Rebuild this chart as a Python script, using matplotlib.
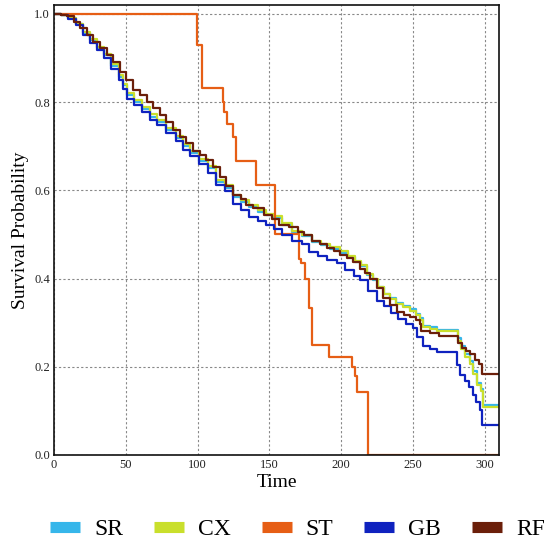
import matplotlib.pyplot as plt

plt.rcParams['font.family'] = ['Liberation Serif', 'DejaVu Serif']

# survival curves (time, probability), drawn as steps
gb_t = [0, 5, 10, 15, 20, 25, 30, 35, 40, 45, 48, 51, 56, 61, 67, 72, 78, 85, 90, 95,
        101, 107, 113, 119, 125, 130, 136, 142, 148, 153, 159, 166, 173, 178, 184, 190,
        197, 203, 209, 213, 219, 225, 230, 235, 240, 245, 250, 253, 257, 262, 267, 281,
        283, 286, 289, 292, 294, 297, 298.5, 310]
gb_s = [1.0, 0.997, 0.988, 0.974, 0.952, 0.935, 0.918, 0.900, 0.875, 0.851, 0.830, 0.808,
        0.793, 0.778, 0.760, 0.747, 0.730, 0.711, 0.692, 0.677, 0.659, 0.640, 0.612, 0.598,
        0.570, 0.555, 0.540, 0.530, 0.521, 0.512, 0.499, 0.485, 0.478, 0.460, 0.450, 0.442,
        0.435, 0.420, 0.405, 0.397, 0.372, 0.350, 0.337, 0.322, 0.308, 0.298, 0.287, 0.268,
        0.246, 0.240, 0.234, 0.205, 0.181, 0.168, 0.155, 0.135, 0.121, 0.102, 0.068, 0.068]

rf_t = [0, 5, 9, 14, 18, 23, 27, 32, 37, 41, 46, 50, 55, 60, 65, 69, 74, 78, 83, 88, 92,
        97, 102, 106, 111, 116, 120, 125, 130, 134, 139, 146, 152, 157, 164, 170, 174, 180,
        185, 190, 195, 199, 204, 208, 213, 217, 220, 225, 229, 234, 239, 244, 248, 252, 255,
        256, 262, 268, 281.5, 284, 287, 290, 293, 296, 298.5, 310]
rf_s = [1.0, 0.998, 0.995, 0.982, 0.967, 0.952, 0.937, 0.922, 0.907, 0.890, 0.869, 0.850,
        0.828, 0.815, 0.801, 0.787, 0.771, 0.755, 0.737, 0.722, 0.707, 0.690, 0.680, 0.668,
        0.652, 0.630, 0.610, 0.590, 0.580, 0.566, 0.560, 0.545, 0.535, 0.522, 0.518, 0.505,
        0.499, 0.484, 0.478, 0.469, 0.462, 0.454, 0.447, 0.438, 0.422, 0.412, 0.400, 0.378,
        0.356, 0.340, 0.325, 0.318, 0.312, 0.305, 0.298, 0.280, 0.276, 0.270, 0.255, 0.242,
        0.236, 0.230, 0.215, 0.206, 0.184, 0.184]

sr_t = [0, 5, 10, 15, 20, 25, 30, 35, 40, 45, 48, 51, 56, 61, 67, 72, 78, 85, 90, 95,
        101, 107, 113, 119, 125, 130, 136, 142, 148, 153, 159, 166, 173, 180, 186, 192,
        199, 205, 210, 214, 218, 222, 226, 230, 234, 238, 243, 248, 252, 255, 257, 262,
        267, 281.5, 283.5, 286, 289.5, 292, 295, 297.5, 298.8, 310]
sr_s = [1.0, 0.997, 0.99, 0.976, 0.956, 0.940, 0.923, 0.906, 0.882, 0.858, 0.838, 0.815,
        0.800, 0.785, 0.767, 0.754, 0.737, 0.718, 0.700, 0.684, 0.667, 0.650, 0.618, 0.606,
        0.586, 0.574, 0.562, 0.552, 0.543, 0.537, 0.522, 0.505, 0.496, 0.482, 0.475, 0.468,
        0.459, 0.448, 0.437, 0.428, 0.408, 0.397, 0.380, 0.366, 0.355, 0.345, 0.338, 0.330,
        0.320, 0.310, 0.293, 0.290, 0.284, 0.265, 0.246, 0.228, 0.212, 0.190, 0.163, 0.150,
        0.113, 0.113]

cx_t = sr_t
cx_s = [1.0, 0.997, 0.99, 0.977, 0.958, 0.942, 0.926, 0.909, 0.886, 0.862, 0.842, 0.820,
        0.805, 0.790, 0.772, 0.759, 0.742, 0.723, 0.705, 0.689, 0.672, 0.656, 0.624, 0.611,
        0.590, 0.578, 0.567, 0.556, 0.547, 0.541, 0.527, 0.508, 0.499, 0.485, 0.478, 0.471,
        0.462, 0.450, 0.439, 0.430, 0.410, 0.398, 0.380, 0.365, 0.353, 0.343, 0.336, 0.327,
        0.317, 0.307, 0.290, 0.286, 0.280, 0.258, 0.240, 0.222, 0.207, 0.184, 0.158, 0.146,
        0.108, 0.108]

st_t = [0, 99.3, 102.8, 117.8, 118.6, 120.4, 124.8, 126.6, 141, 153.8, 170.7, 172,
        174.7, 177.8, 179.5, 191.6, 207.8, 209.5, 211.3, 218.5, 310]
st_s = [1.0, 0.929, 0.833, 0.80, 0.778, 0.75, 0.72, 0.667, 0.611, 0.50, 0.444, 0.435,
        0.40, 0.333, 0.25, 0.222, 0.20, 0.18, 0.143, 0.0, 0.0]

names = ['SR', 'CX', 'ST', 'GB', 'RF']
colors = ['#36b6ea', '#c9df2c', '#e65e15', '#0f22bf', '#6b1f0a']
series = [(sr_t, sr_s), (cx_t, cx_s), (st_t, st_s), (gb_t, gb_s), (rf_t, rf_s)]

fig = plt.figure(figsize=(5.48, 5.46), dpi=100)
ax = fig.add_axes([0.0985, 0.1667, 0.812, 0.824])

for name, col, (t, s) in zip(names, colors, series):
    ax.plot(t, s, drawstyle='steps-post', color=col, linewidth=1.6, label=name)

ax.set_xlim(0, 310)
ax.set_ylim(0, 1.02)
ax.set_xticks([0, 50, 100, 150, 200, 250, 300])
ax.set_yticks([0.0, 0.2, 0.4, 0.6, 0.8, 1.0])
ax.tick_params(length=0, labelsize=9, pad=3, labelcolor='#222222')
ax.grid(True, linestyle=(0, (2, 2)), color='#888888', linewidth=0.8)
for sp in ax.spines.values():
    sp.set_linewidth(1.2)
    sp.set_color('#111111')

ax.set_xlabel('Time', fontsize=14, labelpad=2)
ax.set_ylabel('Survival Probability', fontsize=14, labelpad=4)

leg = fig.legend(loc='center', bbox_to_anchor=(0.543, 0.03), ncol=5, frameon=False,
                 fontsize=17, handlelength=1.27, handletextpad=0.6, columnspacing=1.3,
                 handleheight=0.7)
for line in leg.get_lines():
    line.set_linewidth(8)
    line.set_solid_capstyle('butt')

fig.savefig('out.png', dpi=100)
